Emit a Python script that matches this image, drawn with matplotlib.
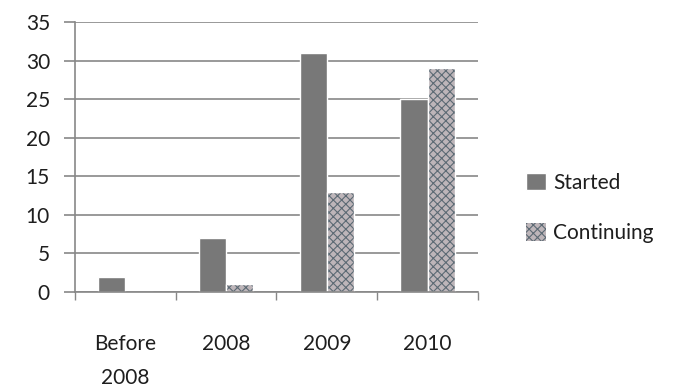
import numpy as np
import matplotlib.pyplot as plt
from matplotlib.patches import Patch

categories = ["Before\n2008", "2008", "2009", "2010"]
started = [2, 7, 31, 25]
continuing = [0, 1, 13, 29]

plt.rcParams['font.family'] = ['Lato', 'DejaVu Sans']
plt.rcParams['hatch.linewidth'] = 0.8

text_color = "#1e1e1e"
grid_color = "#878787"
started_color = "#787878"
cont_face = "#bdb5b9"
cont_hatch = "#5c6a74"

fig = plt.figure(figsize=(6.86, 3.92), dpi=100)
ax = fig.add_axes([0.1093, 0.2551, 0.5875, 0.6888])

x = np.arange(len(categories))
w = 0.27
ax.bar(x - w / 2, started, width=w, color=started_color, edgecolor="white",
       linewidth=1, zorder=3)
# speckled fill for the second series, then a white outline on top
ax.bar(x + w / 2, continuing, width=w, facecolor=cont_face, edgecolor=cont_hatch,
       linewidth=0, hatch="xxxx", zorder=3)
ax.bar(x + w / 2, continuing, width=w, fill=False, edgecolor="white",
       linewidth=1, zorder=4)

ax.set_ylim(0, 35)
ax.set_xlim(-0.5, len(categories) - 0.5)
ax.set_yticks(range(0, 36, 5))
ax.yaxis.grid(True, color=grid_color, linewidth=1.2, zorder=0)
ax.set_axisbelow(True)

ax.set_xticks(np.arange(-0.5, len(categories), 1))
ax.set_xticklabels([])
ax.set_xticks(x, minor=True)
ax.set_xticklabels(categories, minor=True, linespacing=1.9)
ax.tick_params(axis="x", which="major", length=6, width=1, color=grid_color)
ax.tick_params(axis="x", which="minor", length=0, pad=30, labelsize=15,
               labelcolor=text_color)
ax.tick_params(axis="y", length=8, width=1.2, color=grid_color, pad=10,
               labelsize=15, labelcolor=text_color)

for s in ["top", "right"]:
    ax.spines[s].set_visible(False)
for s in ["left", "bottom"]:
    ax.spines[s].set_color(grid_color)
    ax.spines[s].set_linewidth(1.2)
    ax.spines[s].set_zorder(5)

handles = [Patch(facecolor=started_color, edgecolor="white", label="Started"),
           Patch(facecolor=cont_face, edgecolor=cont_hatch, linewidth=0,
                 hatch="xxxx", label="Continuing")]
fig.legend(handles=handles, loc="center left", bbox_to_anchor=(0.74, 0.47),
           frameon=False, fontsize=15, handlelength=0.95, handleheight=0.95,
           handletextpad=0.35, labelspacing=1.45, labelcolor=text_color)

fig.savefig("out.png", dpi=100)
